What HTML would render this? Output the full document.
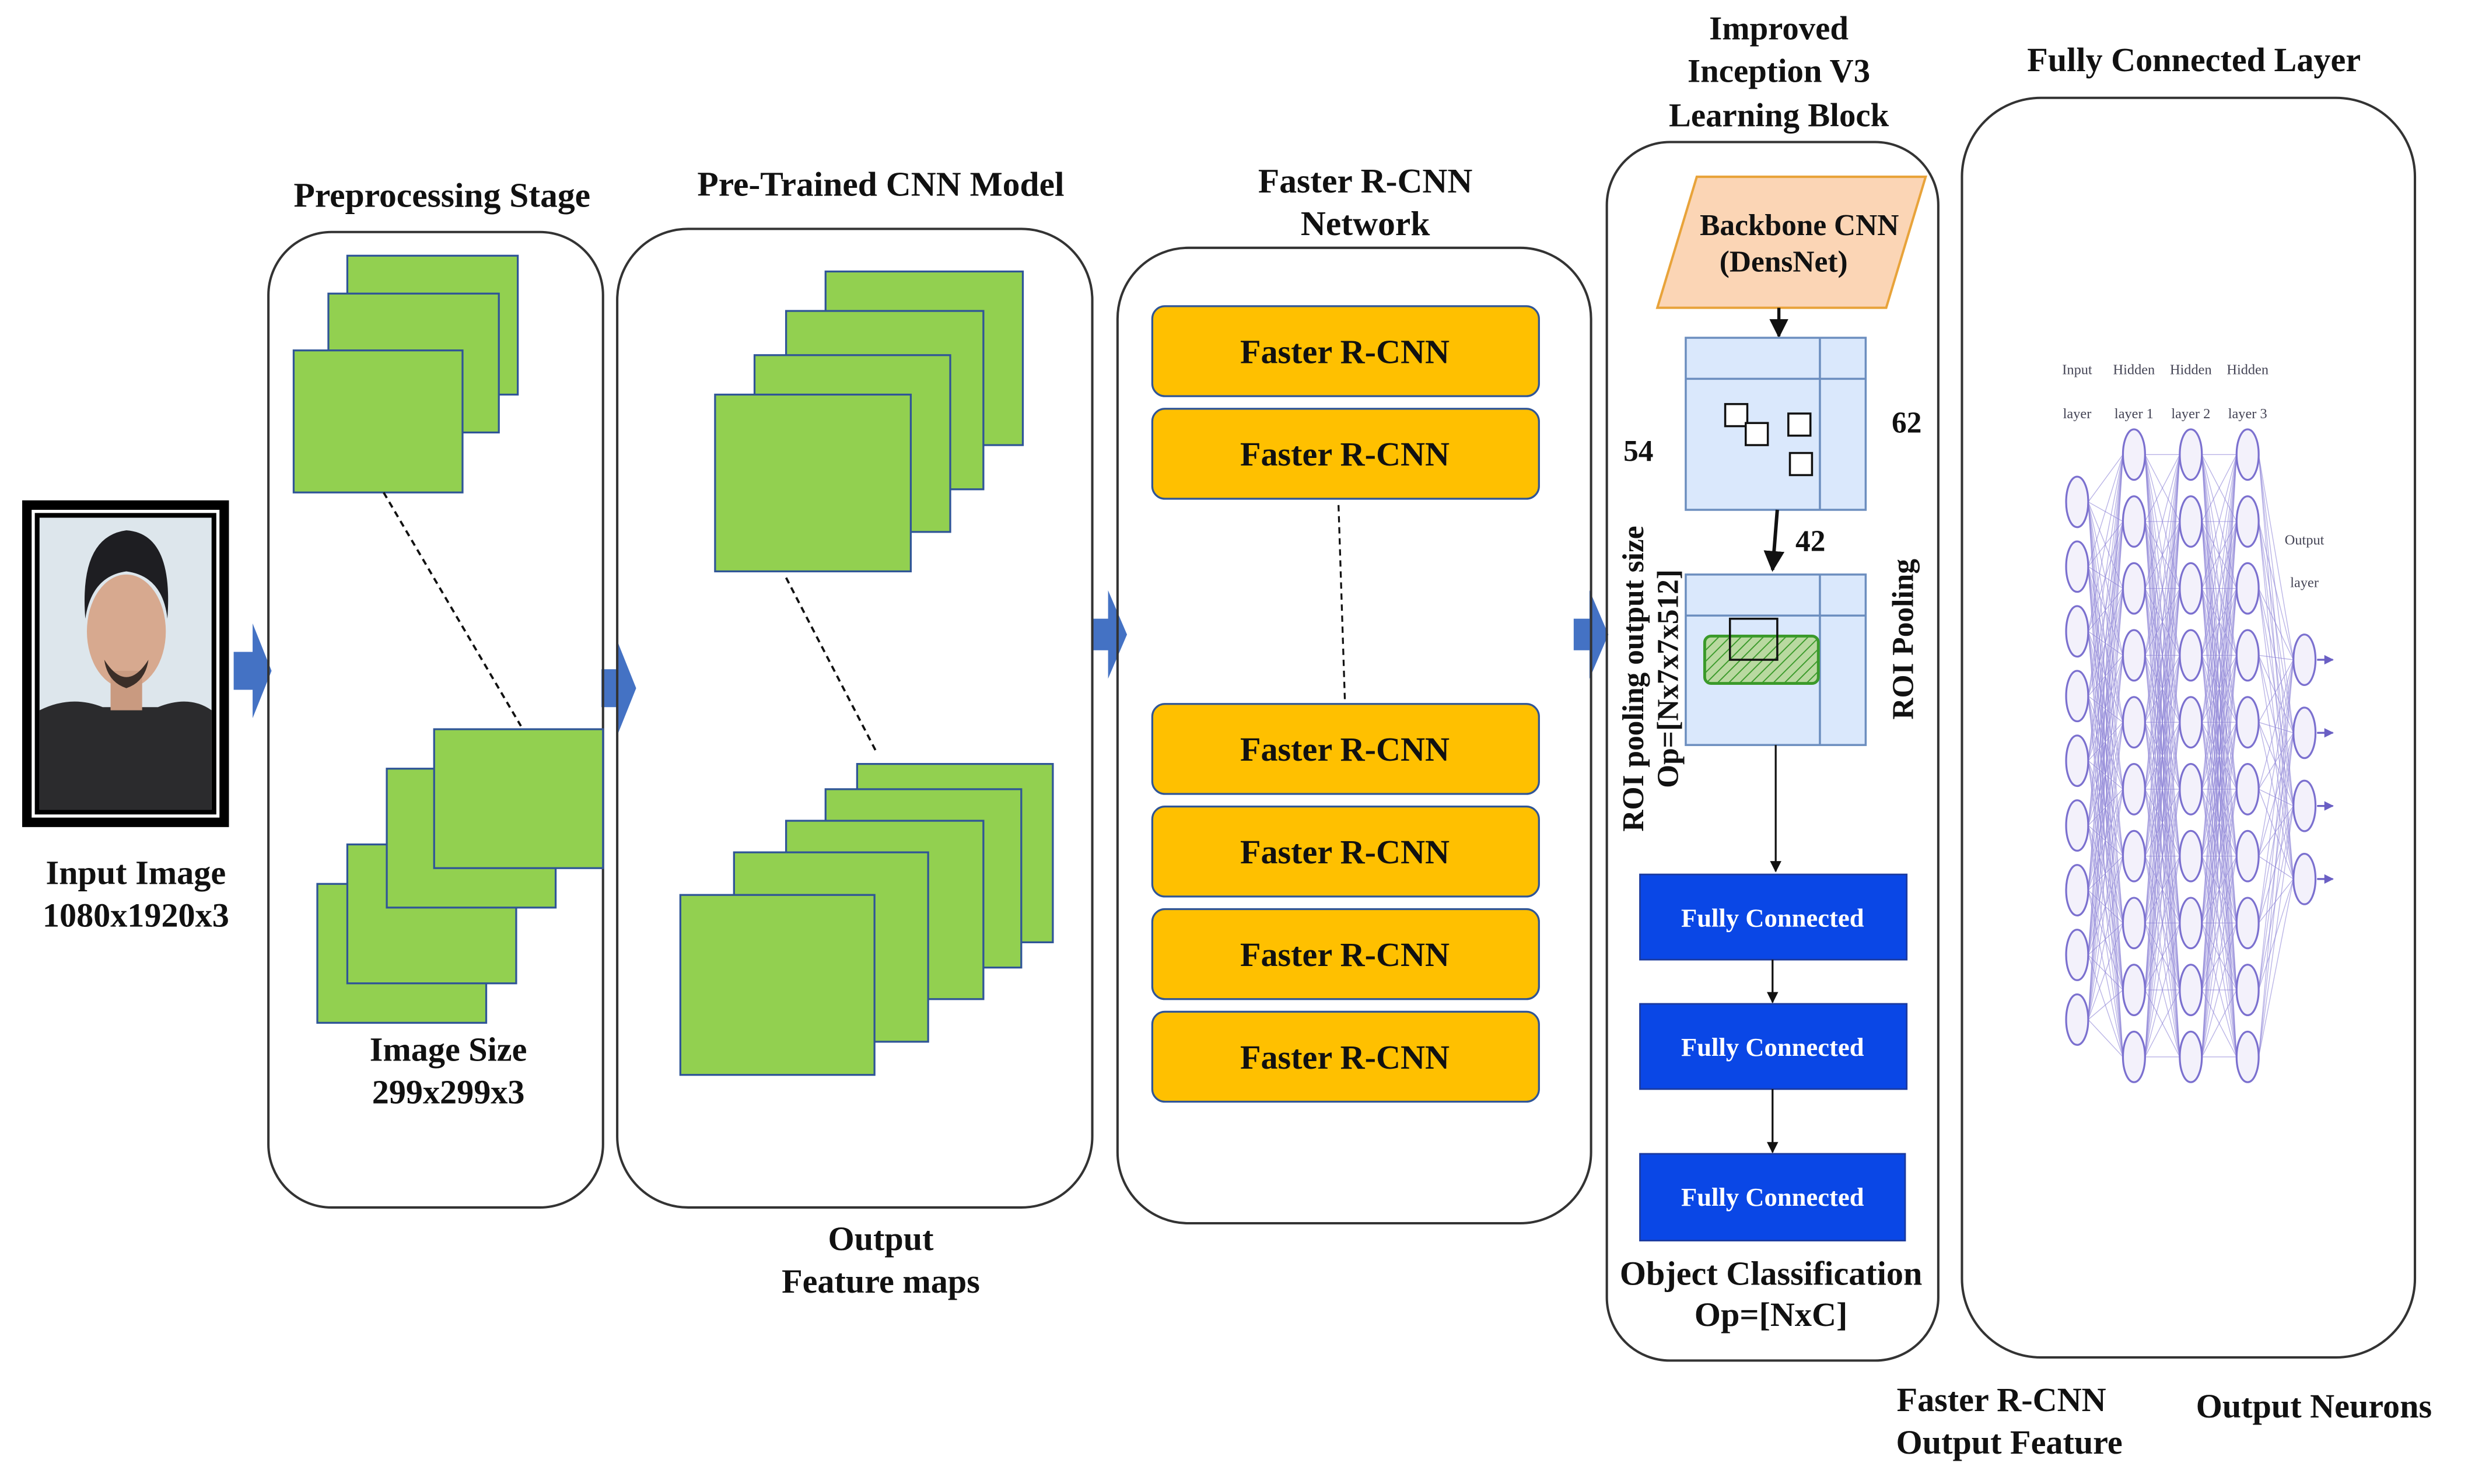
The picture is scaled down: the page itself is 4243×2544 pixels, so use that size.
<!DOCTYPE html>
<html><head><meta charset="utf-8"><style>
html,body{margin:0;padding:0;background:#fff}
svg{display:block}
text{font-family:"Liberation Serif",serif;font-weight:bold;fill:#111}
</style></head><body>
<svg width="4243" height="2544" viewBox="0 0 1568 940.2" xmlns="http://www.w3.org/2000/svg">
<defs>
<marker id="ah" viewBox="0 0 10 10" refX="9" refY="5" markerWidth="6" markerHeight="6" orient="auto"><path d="M0,0 L10,5 L0,10 z" fill="#111"/></marker>
<marker id="ahp" viewBox="0 0 10 10" refX="9" refY="5" markerWidth="5" markerHeight="5" orient="auto"><path d="M0,0 L10,5 L0,10 z" fill="#6a5fc4"/></marker>
<pattern id="hatch" width="5" height="5" patternUnits="userSpaceOnUse" patternTransform="rotate(45)"><rect width="5" height="5" fill="#b9d9a0"/><line x1="0" y1="0" x2="0" y2="5" stroke="#3a9a2a" stroke-width="1.4"/></pattern>
</defs>

<!-- Input image -->
<rect x="14" y="317" width="131" height="207" fill="#000"/>
<rect x="21" y="324" width="117" height="193" fill="none" stroke="#fff" stroke-width="2"/>
<rect x="25" y="328" width="109" height="185" fill="#dde6ec"/>
<path d="M25,450 Q45,440 65,448 L100,448 Q120,440 134,450 L134,513 L25,513 z" fill="#2b2b2d"/>
<ellipse cx="80" cy="400" rx="25" ry="36" fill="#d7a98f"/>
<rect x="70" y="425" width="20" height="25" fill="#c99a80"/>
<path d="M54,392 Q50,340 80,336 Q110,338 106,392 Q103,365 80,362 Q58,365 54,392 z" fill="#1e1e22"/>
<path d="M66,418 Q80,440 94,418 Q92,432 80,436 Q68,432 66,418z" fill="#3b2e28"/>
<text x="86" y="560" font-size="21.5" text-anchor="middle">Input Image</text>
<text x="86" y="587" font-size="21.5" text-anchor="middle">1080x1920x3</text>

<!-- block arrows -->
<g fill="#4472c4">
<path d="M148,413 h12 v-18 l12,30 l-12,30 v-18 h-12 z"/>
<path d="M381,424 h10 v-18 l12,30 l-12,30 v-18 h-10 z"/>
<path d="M692,392 h10 v-18 l12,28 l-12,28 v-18 h-10 z"/>
<path d="M997,392 h10 v-18 l12,28 l-12,28 v-18 h-10 z"/>
</g>

<!-- Preprocessing -->
<text x="280" y="131" font-size="22" text-anchor="middle">Preprocessing Stage</text>
<rect x="170" y="147" width="212" height="618" rx="40" fill="none" stroke="#333" stroke-width="1.5"/>
<g fill="#92d050" stroke="#2f5597" stroke-width="1.2">
<rect x="220" y="162" width="108" height="88"/>
<rect x="208" y="186" width="108" height="88"/>
<rect x="186" y="222" width="107" height="90"/>
<rect x="201" y="560" width="107" height="88"/>
<rect x="220" y="535" width="107" height="88"/>
<rect x="245" y="487" width="107" height="88"/>
<rect x="275" y="462" width="107" height="88"/>
</g>
<line x1="243" y1="312" x2="330" y2="460" stroke="#111" stroke-dasharray="4,3" stroke-width="1.4"/>
<text x="284" y="672" font-size="21.5" text-anchor="middle">Image Size</text>
<text x="284" y="699" font-size="21.5" text-anchor="middle">299x299x3</text>

<!-- CNN -->
<text x="558" y="124" font-size="22" text-anchor="middle">Pre-Trained CNN Model</text>
<rect x="391" y="145" width="301" height="620" rx="45" fill="none" stroke="#333" stroke-width="1.5"/>
<g fill="#92d050" stroke="#2f5597" stroke-width="1.2">
<rect x="523" y="172" width="125" height="110"/>
<rect x="498" y="197" width="125" height="113"/>
<rect x="478" y="225" width="124" height="112"/>
<rect x="453" y="250" width="124" height="112"/>
<rect x="543" y="484" width="124" height="113"/>
<rect x="523" y="500" width="124" height="113"/>
<rect x="498" y="520" width="125" height="113"/>
<rect x="465" y="540" width="123" height="120"/>
<rect x="431" y="567" width="123" height="114"/>
</g>
<line x1="498" y1="366" x2="555" y2="476" stroke="#111" stroke-dasharray="4,3" stroke-width="1.4"/>
<text x="558" y="792" font-size="21.5" text-anchor="middle">Output</text>
<text x="558" y="819" font-size="21.5" text-anchor="middle">Feature maps</text>

<!-- Faster R-CNN -->
<text x="865" y="122" font-size="22" text-anchor="middle">Faster R-CNN</text>
<text x="865" y="149" font-size="22" text-anchor="middle">Network</text>
<rect x="708" y="157" width="300" height="618" rx="45" fill="none" stroke="#333" stroke-width="1.5"/>
<g fill="#ffc000" stroke="#2f5597" stroke-width="1.2">
<rect x="730" y="194" width="245" height="57" rx="8"/>
<rect x="730" y="259" width="245" height="57" rx="8"/>
<rect x="730" y="446" width="245" height="57" rx="8"/>
<rect x="730" y="511" width="245" height="57" rx="8"/>
<rect x="730" y="576" width="245" height="57" rx="8"/>
<rect x="730" y="641" width="245" height="57" rx="8"/>
</g>
<g font-size="21.5" text-anchor="middle">
<text x="852" y="230">Faster R-CNN</text>
<text x="852" y="295">Faster R-CNN</text>
<text x="852" y="482">Faster R-CNN</text>
<text x="852" y="547">Faster R-CNN</text>
<text x="852" y="612">Faster R-CNN</text>
<text x="852" y="677">Faster R-CNN</text>
</g>
<line x1="848" y1="320" x2="852" y2="443" stroke="#111" stroke-dasharray="4,3" stroke-width="1.2"/>

<!-- Inception block -->
<g font-size="21" text-anchor="middle">
<text x="1127" y="25">Improved</text>
<text x="1127" y="52">Inception V3</text>
<text x="1127" y="80">Learning Block</text>
</g>
<rect x="1018" y="90" width="210" height="772" rx="40" fill="none" stroke="#333" stroke-width="1.5"/>
<path d="M1075,112 L1220,112 L1195,195 L1050,195 z" fill="#fbd5b5" stroke="#e8a33a" stroke-width="1.5"/>
<text x="1140" y="149" font-size="19" text-anchor="middle">Backbone CNN</text>
<text x="1130" y="172" font-size="19" text-anchor="middle">(DensNet)</text>
<line x1="1127" y1="195" x2="1127" y2="213" stroke="#111" stroke-width="2" marker-end="url(#ah)"/>
<g fill="#dae8fc" stroke="#6c8ebf" stroke-width="1.3">
<rect x="1068" y="214" width="114" height="109"/>
<rect x="1068" y="364" width="114" height="108"/>
</g>
<g stroke="#6c8ebf" stroke-width="1.3">
<line x1="1068" y1="240" x2="1182" y2="240"/><line x1="1153" y1="214" x2="1153" y2="323"/>
<line x1="1068" y1="390" x2="1182" y2="390"/><line x1="1153" y1="364" x2="1153" y2="472"/>
</g>
<g fill="#fff" stroke="#111" stroke-width="1.3">
<rect x="1093" y="256" width="14" height="14"/><rect x="1106" y="268" width="14" height="14"/>
<rect x="1133" y="262" width="14" height="14"/><rect x="1134" y="287" width="14" height="14"/>
</g>
<rect x="1080" y="403" width="72" height="30" rx="4" fill="url(#hatch)" stroke="#3a9a2a" stroke-width="1.8"/>
<rect x="1096" y="392" width="30" height="26" fill="none" stroke="#111" stroke-width="1.3"/>
<text x="1208" y="274" font-size="19" text-anchor="middle">62</text>
<text x="1038" y="292" font-size="19" text-anchor="middle">54</text>
<line x1="1126" y1="323" x2="1123" y2="361" stroke="#111" stroke-width="2.2" marker-end="url(#ah)"/>
<text x="1147" y="349" font-size="19" text-anchor="middle">42</text>
<line x1="1125" y1="472" x2="1125" y2="552" stroke="#111" stroke-width="1.2" marker-end="url(#ah)"/>
<text transform="translate(1041,430) rotate(-90)" font-size="19" text-anchor="middle">ROI pooling output size</text>
<text transform="translate(1063,430) rotate(-90)" font-size="19" text-anchor="middle">Op=[Nx7x7x512]</text>
<text transform="translate(1212,405) rotate(-90)" font-size="19" text-anchor="middle">ROI Pooling</text>
<g fill="#0a47e6" stroke="#1b3a9e" stroke-width="1">
<rect x="1039" y="554" width="169" height="54"/>
<rect x="1039" y="636" width="169" height="54"/>
<rect x="1039" y="731" width="168" height="55"/>
</g>
<g font-size="16.5" text-anchor="middle">
<text x="1123" y="587" style="fill:#fff">Fully Connected</text>
<text x="1123" y="669" style="fill:#fff">Fully Connected</text>
<text x="1123" y="764" style="fill:#fff">Fully Connected</text>
</g>
<line x1="1123" y1="608" x2="1123" y2="635" stroke="#111" stroke-width="1.2" marker-end="url(#ah)"/>
<line x1="1123" y1="690" x2="1123" y2="730" stroke="#111" stroke-width="1.2" marker-end="url(#ah)"/>
<text x="1122" y="814" font-size="21.5" text-anchor="middle">Object Classification</text>
<text x="1122" y="840" font-size="21.5" text-anchor="middle">Op=[NxC]</text>

<!-- FC layer -->
<text x="1390" y="45" font-size="21.5" text-anchor="middle">Fully Connected Layer</text>
<rect x="1243" y="62" width="287" height="798" rx="50" fill="none" stroke="#333" stroke-width="1.5"/>
<g id="nn"></g>
<g font-size="9" text-anchor="middle">
<text x="1316" y="237" style="font-weight:normal;fill:#445">Input</text><text x="1316" y="265" style="font-weight:normal;fill:#445">layer</text>
<text x="1352" y="237" style="font-weight:normal;fill:#445">Hidden</text><text x="1352" y="265" style="font-weight:normal;fill:#445">layer 1</text>
<text x="1388" y="237" style="font-weight:normal;fill:#445">Hidden</text><text x="1388" y="265" style="font-weight:normal;fill:#445">layer 2</text>
<text x="1424" y="237" style="font-weight:normal;fill:#445">Hidden</text><text x="1424" y="265" style="font-weight:normal;fill:#445">layer 3</text>
<text x="1460" y="345" style="font-weight:normal;fill:#445">Output</text><text x="1460" y="372" style="font-weight:normal;fill:#445">layer</text>
</g>

<text x="1268" y="894" font-size="21.5" text-anchor="middle">Faster R-CNN</text>
<text x="1273" y="921" font-size="21.5" text-anchor="middle">Output Feature</text>
<text x="1466" y="898" font-size="21.5" text-anchor="middle">Output Neurons</text>
</svg>
<script>
(function(){
var ns="http://www.w3.org/2000/svg",g=document.getElementById("nn");
var layers=[{x:1316,n:9,y0:318,dy:41},{x:1352,n:10,y0:288,dy:42.4},{x:1388,n:10,y0:288,dy:42.4},{x:1424,n:10,y0:288,dy:42.4},{x:1460,n:4,y0:418,dy:46.3}];
function el(t,a){var e=document.createElementNS(ns,t);for(var k in a)e.setAttribute(k,a[k]);g.appendChild(e);return e;}
for(var l=0;l<4;l++){var A=layers[l],B=layers[l+1];
for(var i=0;i<A.n;i++)for(var j=0;j<B.n;j++)el("line",{x1:A.x+7,y1:A.y0+i*A.dy,x2:B.x-7,y2:B.y0+j*B.dy,stroke:"#8a80d6","stroke-width":"0.5","stroke-opacity":"0.6"});}
layers.forEach(function(L){for(var i=0;i<L.n;i++)el("ellipse",{cx:L.x,cy:L.y0+i*L.dy,rx:7,ry:16,fill:"#f3f1fb",stroke:"#7b70cf","stroke-width":"1.2"});});
var O=layers[4];for(var i=0;i<4;i++){var y=O.y0+i*O.dy;el("line",{x1:O.x+8,y1:y,x2:O.x+18,y2:y,stroke:"#6a5fc4","stroke-width":"1.2","marker-end":"url(#ahp)"});}
})();
</script>
</body></html>
